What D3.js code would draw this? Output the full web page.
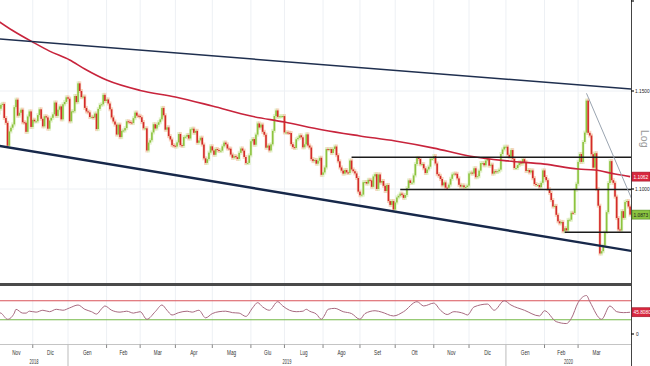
<!DOCTYPE html>
<html>
<head>
<meta charset="utf-8">
<script src="https://cdn.jsdelivr.net/npm/d3@7"></script>
<style>
  body { margin: 0; background: #fff; }
  svg { display: block; }
  text { font-family: "Liberation Sans", Arial, sans-serif; }
</style>
</head>
<body>
<div id="chart"></div>
<script>
// EUR/USD daily, weekdays from startDate
const startDate = "2018-11-01";
const prevClose = 1.1313;
const closes = [
  // Nov 2018
  1.1408,1.1388,1.1408,1.1428,1.1433,1.1360,1.1335,1.1218,1.1291,1.1310,1.1327,1.1416,1.1455,1.1372,1.1387,1.1403,1.1338,1.1336,1.1289,1.1368,1.1394,1.1314,
  // Dec 2018
  1.1351,1.1343,1.1343,1.1375,1.1405,1.1356,1.1317,1.1369,1.1363,1.1305,1.1347,1.1361,1.1379,1.1440,1.1371,1.1403,1.1420,1.1353,1.1431,1.1443,1.1467,
  // Jan 2019
  1.1460,1.1343,1.1394,1.1395,1.1474,1.1442,1.1540,1.1500,1.1468,1.1471,1.1412,1.1394,1.1389,1.1365,1.1366,1.1362,1.1383,1.1303,1.1407,1.1428,1.1431,1.1480,1.1448,
  // Feb 2019
  1.1456,1.1435,1.1405,1.1363,1.1342,1.1326,1.1275,1.1326,1.1262,1.1294,1.1296,1.1308,1.1343,1.1340,1.1337,1.1334,1.1359,1.1388,1.1372,1.1371,
  // Mar 2019
  1.1364,1.1339,1.1307,1.1307,1.1194,1.1234,1.1246,1.1286,1.1328,1.1306,1.1325,1.1338,1.1353,1.1412,1.1374,1.1300,1.1312,1.1267,1.1250,1.1221,1.1218,
  // Apr 2019
  1.1214,1.1235,1.1278,1.1221,1.1217,1.1262,1.1264,1.1273,1.1255,1.1302,1.1305,1.1284,1.1294,1.1233,1.1245,1.1259,1.1224,1.1154,1.1131,1.1150,1.1183,1.1215,
  // May 2019
  1.1194,1.1172,1.1201,1.1196,1.1191,1.1193,1.1215,1.1234,1.1225,1.1204,1.1203,1.1173,1.1157,1.1165,1.1160,1.1151,1.1182,1.1204,1.1193,1.1161,1.1130,1.1131,1.1169,
  // Jun 2019
  1.1241,1.1252,1.1223,1.1275,1.1332,1.1311,1.1326,1.1289,1.1274,1.1208,1.1219,1.1194,1.1225,1.1294,1.1370,1.1399,1.1366,1.1369,1.1369,1.1370,
  // Jul 2019
  1.1286,1.1286,1.1284,1.1283,1.1226,1.1211,1.1207,1.1251,1.1258,1.1271,1.1261,1.1210,1.1225,1.1276,1.1219,1.1209,1.1150,1.1140,1.1146,1.1127,1.1142,1.1157,1.1071,
  // Aug 2019
  1.1083,1.1108,1.1201,1.1200,1.1201,1.1181,1.1202,1.1214,1.1170,1.1139,1.1108,1.1092,1.1077,1.1095,1.1083,1.1080,1.1143,1.1098,1.1089,1.1078,1.1055,1.0987,
  // Sep 2019
  1.0969,1.0972,1.1034,1.1035,1.1027,1.1046,1.1043,1.1011,1.1063,1.1074,1.1000,1.1073,1.1032,1.1040,1.1016,1.0990,1.1020,1.0940,1.0921,1.0940,1.0898,
  // Oct 2019
  1.0933,1.0958,1.0966,1.0977,1.0971,1.0956,1.0970,1.1004,1.1043,1.1030,1.1032,1.1068,1.1125,1.1156,1.1151,1.1124,1.1125,1.1104,1.1080,1.1098,1.1112,1.1152,1.1152,
  // Nov 2019
  1.1166,1.1128,1.1074,1.1066,1.1050,1.1018,1.1033,1.1007,1.1006,1.1022,1.1051,1.1073,1.1077,1.1076,1.1053,1.1021,1.1012,1.1018,1.1009,1.1010,1.1017,
  // Dec 2019
  1.1078,1.1082,1.1077,1.1104,1.1059,1.1064,1.1092,1.1130,1.1130,1.1119,1.1143,1.1151,1.1117,1.1122,1.1077,1.1089,1.1085,1.1089,1.1097,1.1176,1.1199,1.1213,
  // Jan 2020
  1.1213,1.1172,1.1160,1.1196,1.1152,1.1105,1.1105,1.1120,1.1134,1.1127,1.1150,1.1136,1.1090,1.1095,1.1083,1.1093,1.1054,1.1025,1.1020,1.1020,1.1009,1.1031,1.1093,
  // Feb 2020
  1.1060,1.1044,1.1000,1.0980,1.0945,1.0913,1.0916,1.0872,1.0840,1.0830,1.0837,1.0791,1.0806,1.0795,1.0847,1.0848,1.0882,1.0881,1.0995,1.1026,
  // Mar 2020
  1.1136,1.1176,1.1136,1.1237,1.1285,1.1450,1.1284,1.1270,1.1175,1.1107,1.1180,1.1000,1.0917,1.0683,1.0694,1.0721,1.0787,1.0885,1.1030,1.1140,1.1044,1.1031,
  // Apr 2020
  1.0962,1.0856,1.0800,1.0795,1.0890,1.0857,1.0935,1.0940,1.0913,1.0873
];

// 200-day moving average
const maDates = ["2018-11-01","2018-11-15","2018-12-03","2018-12-17","2019-01-02","2019-01-15","2019-02-01",
  "2019-03-01","2019-04-01","2019-05-01","2019-06-03","2019-07-01","2019-08-01","2019-09-02","2019-10-01",
  "2019-11-01","2019-12-02","2020-01-02","2020-02-03","2020-03-02","2020-03-16","2020-04-01","2020-04-14"];
const maValues = [1.1880,1.1820,1.1758,1.1710,1.1663,1.1615,1.1557,1.1503,1.1469,1.1422,1.1370,1.1339,1.1298,
  1.1268,1.1242,1.1206,1.1166,1.1141,1.1125,1.1100,1.1095,1.1075,1.1062];

// RSI
const rsiDates = ["2018-11-01","2018-11-06","2018-11-12","2018-11-16","2018-11-19","2018-11-23","2018-11-27","2018-11-29",
  "2018-12-05","2018-12-11","2018-12-17","2018-12-21","2018-12-27","2019-01-02","2019-01-09","2019-01-15","2019-01-21",
  "2019-01-24","2019-01-29","2019-01-31","2019-02-06","2019-02-13","2019-02-19","2019-02-25","2019-03-01","2019-03-07",
  "2019-03-14","2019-03-20","2019-03-25","2019-03-28","2019-04-03","2019-04-10","2019-04-15","2019-04-19","2019-04-25",
  "2019-05-01","2019-05-07","2019-05-13","2019-05-17","2019-05-23","2019-05-29","2019-06-04","2019-06-07","2019-06-12",
  "2019-06-18","2019-06-25","2019-06-28","2019-07-04","2019-07-10","2019-07-16","2019-07-18","2019-07-22","2019-07-26",
  "2019-07-31","2019-08-02","2019-08-06","2019-08-12","2019-08-19","2019-08-26","2019-09-02","2019-09-05","2019-09-13",
  "2019-09-19","2019-09-30","2019-10-08","2019-10-18","2019-10-24","2019-11-01","2019-11-07","2019-11-13","2019-11-19",
  "2019-11-27","2019-11-29","2019-12-05","2019-12-17","2019-12-23","2019-12-31","2020-01-06","2020-01-16","2020-01-29",
  "2020-02-03","2020-02-12","2020-02-20","2020-02-25","2020-03-02","2020-03-09","2020-03-11","2020-03-20","2020-03-27",
  "2020-04-02","2020-04-08","2020-04-14"];
const rsiValues = [46,44,31,44,52,44,44,48,46,50,47,52,50,55,61,52,47,42,53,59,50,46,48,44,47,31,47,61,50,40,45,48,46,50,34,
  43,47,48,45,44,37,55,66,57,50,68,59,50,47,48,52,48,42,31,40,52,54,47,43,31,43,49,46,38,47,68,59,65,50,41,47,43,40,57,63,
  50,70,61,50,38,49,26,22,33,66,81,68,31,59,47,45,45.808];

// drawn studies
const channelTop = [["2018-11-01", 1.1776], ["2020-04-15", 1.1510]];
const channelBottom = [["2018-11-01", 1.1220], ["2020-04-15", 1.0695]];
const fallLine = [["2020-03-09", 1.1488], ["2020-04-15", 1.0950]];
const levelStart = ["2019-08-26", "2019-10-04", "2020-02-19"];
const levelPrice = [1.1160, 1.0998, 1.0786];

const monthLabels = ["Nov","Dic","Gen","Feb","Mar","Apr","Mag","Giu","Lug","Ago","Set","Ott","Nov","Dic","Gen","Feb","Mar"];
const yearLabels = ["2018", "2019", "2020"];
const priceTicks = [1.15, 1.10];
const topTick = 1.20;
const lastPrice = 1.0873, lastMA = 1.1062, lastRSI = 45.8080;

const W = 650, H = 366, plotR = 631;
const parse = d3.utcParse("%Y-%m-%d");
const fmt = d3.utcFormat("%Y-%m-%d");
const t0 = parse(startDate);
const isWeekday = (d) => d.getUTCDay() % 6 !== 0;
const wdIndex = (s) => d3.utcDays(t0, parse(s)).filter(isWeekday).length;

const x = d3.scaleLinear()
  .domain([wdIndex("2019-01-01"), wdIndex("2020-04-01")])
  .range([68, 615]);
const y = d3.scaleLog().domain([1.10, 1.15]).range([189, 91]);
const yR = d3.scaleLinear().domain([0, 100]).range([334, 286.5]);

const svg = d3.select("#chart").append("svg").attr("width", W).attr("height", H);

svg.append("defs").append("clipPath").attr("id", "plot")
  .append("rect").attr("x", 0).attr("y", 0).attr("width", plotR).attr("height", 283);
svg.select("defs").append("clipPath").attr("id", "rsi")
  .append("rect").attr("x", 0).attr("y", 286).attr("width", plotR).attr("height", 58);

// month boundaries
const months = d3.utcMonths(parse("2018-11-01"), parse("2020-05-01"));
const bounds = months.map((m) => x(wdIndex(fmt(m))));

const grid = svg.append("g").attr("stroke", "#edf0f4").attr("stroke-width", 1);
bounds.slice(1, -1).forEach((bx) => {
  grid.append("line").attr("x1", bx).attr("x2", bx).attr("y1", 0).attr("y2", 283);
  grid.append("line").attr("x1", bx).attr("x2", bx).attr("y1", 286).attr("y2", 344);
});
priceTicks.forEach((p) => {
  grid.append("line").attr("x1", 0).attr("x2", plotR).attr("y1", y(p)).attr("y2", y(p));
});

const plot = svg.append("g").attr("clip-path", "url(#plot)");

// candles
const candles = closes.map((c, i) => ({ i, o: i ? closes[i - 1] : prevClose, c }));
const up = "#8cc43f", down = "#d42a2a";
plot.append("g").selectAll("rect").data(candles).join("rect")
  .attr("x", (d) => x(d.i) - 1.5).attr("width", 3)
  .attr("y", (d) => y(Math.max(d.o, d.c)) - 2)
  .attr("height", (d) => Math.abs(y(d.o) - y(d.c)) + 4)
  .attr("fill", (d) => (d.c >= d.o ? "#d6eab2" : "#f2bf9e"))
  .attr("opacity", 0.65);
plot.append("g").selectAll("rect").data(candles).join("rect")
  .attr("x", (d) => x(d.i) - 0.8).attr("width", 1.6)
  .attr("y", (d) => y(Math.max(d.o, d.c)))
  .attr("height", (d) => Math.max(1, Math.abs(y(d.o) - y(d.c))))
  .attr("fill", (d) => (d.c >= d.o ? up : down));

// moving average
const ma = maDates.map((d, k) => [wdIndex(d), maValues[k]]);
plot.append("path").datum(ma)
  .attr("fill", "none").attr("stroke", "#c8243c").attr("stroke-width", 1.6)
  .attr("d", d3.line().x((d) => x(d[0])).y((d) => y(d[1])).curve(d3.curveMonotoneX));

// horizontal levels
levelStart.forEach((s, k) => {
  plot.append("line")
    .attr("x1", x(wdIndex(s))).attr("x2", plotR)
    .attr("y1", y(levelPrice[k])).attr("y2", y(levelPrice[k]))
    .attr("stroke", "#1b1b1b").attr("stroke-width", 1.5);
});

// trend lines
const seg = (pts, color, w) => plot.append("line")
  .attr("x1", x(wdIndex(pts[0][0]))).attr("y1", y(pts[0][1]))
  .attr("x2", x(wdIndex(pts[1][0]))).attr("y2", y(pts[1][1]))
  .attr("stroke", color).attr("stroke-width", w);
seg(channelTop, "#1f2f4f", 1.5);
seg(channelBottom, "#17284a", 2.4);
seg(fallLine, "#9aa4b0", 1);

// separator between panels
svg.append("rect").attr("x", 0).attr("y", 283).attr("width", plotR).attr("height", 3).attr("fill", "#4a4a4a");
svg.append("line").attr("x1", 0).attr("x2", plotR).attr("y1", 344.5).attr("y2", 344.5)
  .attr("stroke", "#c4c4c4");

// RSI panel
const rsiG = svg.append("g").attr("clip-path", "url(#rsi)");
rsiG.append("line").attr("x1", 0).attr("x2", plotR).attr("y1", yR(70)).attr("y2", yR(70))
  .attr("stroke", "#d9535a").attr("stroke-width", 1);
rsiG.append("line").attr("x1", 0).attr("x2", plotR).attr("y1", yR(30)).attr("y2", yR(30))
  .attr("stroke", "#74b947").attr("stroke-width", 1);
const rsi = rsiDates.map((d, k) => [wdIndex(d), rsiValues[k]]);
rsiG.append("path").datum(rsi)
  .attr("fill", "none").attr("stroke", "#a86a80").attr("stroke-width", 1)
  .attr("d", d3.line().x((d) => x(d[0])).y((d) => yR(d[1])).curve(d3.curveMonotoneX));

// right axis
svg.append("line").attr("x1", plotR + 0.5).attr("x2", plotR + 0.5).attr("y1", 0).attr("y2", H)
  .attr("stroke", "#444");
const narrow = (g, tx, ty, sx) => g.attr("transform", `translate(${tx},${ty}) scale(${sx},1)`);
const tick = (yy) => svg.append("line").attr("x1", plotR).attr("x2", plotR + 3).attr("y1", yy).attr("y2", yy)
  .attr("stroke", "#111").attr("stroke-width", 1.2);
tick(Math.max(1, y(topTick)));
priceTicks.forEach((p) => {
  tick(y(p));
  narrow(svg.append("text"), plotR + 4, y(p) + 2, 0.8)
    .attr("font-size", 6).attr("fill", "#222").text(p.toFixed(4));
});
tick(yR(0));
narrow(svg.append("text"), plotR + 5, yR(0) + 2, 0.8).attr("font-size", 6).attr("fill", "#222").text("0");

const tag = (yy, value, fill, stroke, color) => {
  svg.append("rect").attr("x", plotR + 1).attr("y", yy - 4.5).attr("width", 18).attr("height", 9)
    .attr("fill", fill).attr("stroke", stroke).attr("stroke-width", 0.6);
  narrow(svg.append("text"), plotR + 2.5, yy + 2, 0.8)
    .attr("font-size", 6).attr("fill", color).text(value);
};
tag(y(lastMA), lastMA.toFixed(4), "#d8283f", "#a01628", "#fff");
tag(y(lastPrice), lastPrice.toFixed(4), "#8ac441", "#4f8a22", "#1a1a1a");
tag(yR(lastRSI), lastRSI.toFixed(4), "#d8283f", "#a01628", "#fff");

svg.append("text").attr("transform", "translate(641,130) rotate(90)")
  .attr("font-size", 10.5).attr("fill", "#9a9a9a").text("Log");

// time axis
const axis = svg.append("g");
bounds.slice(1, -1).forEach((bx, k) => {
  const isYear = months[k + 1].getUTCMonth() === 0;
  axis.append("line").attr("x1", bx).attr("x2", bx).attr("y1", 344.5).attr("y2", isYear ? H : 348)
    .attr("stroke", isYear ? "#bbb" : "#888");
});
monthLabels.forEach((lab, k) => {
  const cx = (Math.max(0, bounds[k]) + Math.min(plotR, bounds[k + 1])) / 2;
  narrow(axis.append("text"), cx, 354.5, 0.62)
    .attr("text-anchor", "middle").attr("font-size", 7.5).attr("fill", "#333").text(lab);
});
const yearStart = ["2018-11-01", "2019-01-01", "2020-01-01"];
yearLabels.forEach((lab, k) => {
  const a = Math.max(0, x(wdIndex(yearStart[k])));
  const b = k < yearStart.length - 1 ? x(wdIndex(yearStart[k + 1])) : plotR;
  narrow(axis.append("text"), (a + Math.min(b, plotR)) / 2, 364, 0.62)
    .attr("text-anchor", "middle").attr("font-size", 6.5).attr("fill", "#333").text(lab);
});
</script>
</body>
</html>
